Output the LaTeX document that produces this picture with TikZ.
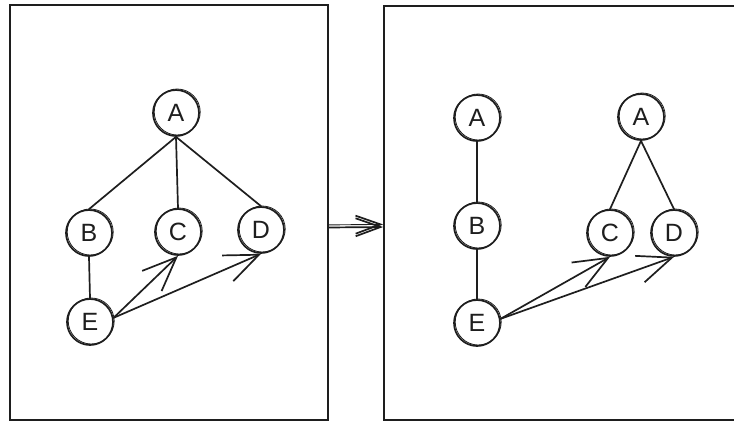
\documentclass[tikz,border=0pt]{standalone}
\usepackage{fontspec}
\setmainfont{Liberation Sans}
\usetikzlibrary{arrows.meta}
\definecolor{ink}{HTML}{1E1E1E}
\begin{document}
\begin{tikzpicture}[x=1pt,y=-1pt,
  vertex/.style={circle, draw=ink, line width=1.7pt, minimum size=46pt, inner sep=0pt,
    font=\fontsize{25}{29}\selectfont, text=ink,
    postaction={draw=ink, line width=0.8pt, transform canvas={shift={(1.2pt,1pt)}}}},
  panel/.style={draw=ink, line width=1.8pt, inner sep=0pt},
  link/.style={draw=ink, line width=1.7pt, line cap=round},
  arc/.style={link, -{Straight Barb[length=34pt, width=28pt, line width=1.7pt]}},
  ]
\clip (0,0) rectangle (734,423);
\fill[white] (0,0) rectangle (734,423);

% the two panels
\node[panel, minimum width=318pt, minimum height=415pt] (L) at (169,212.5) {};
\node[panel, minimum width=360pt, minimum height=414pt] (R) at (564,213) {};

% transition between the panels
\draw[link, -{Straight Barb[length=25pt, width=18pt, line width=1.7pt]},
  postaction={draw=ink, line width=0.9pt, transform canvas={shift={(0pt,2.6pt)}}}]
  ([yshift=-15pt]L.east) -- ([yshift=-14pt]R.west);

% left graph
\node[vertex] (A) at (176,113) {A};
\node[vertex] (B) at (89,233) {B};
\node[vertex] (C) at (178,232) {C};
\node[vertex] (D) at (261,230) {D};
\node[vertex] (E) at (90,322) {E};
\draw[link] (A.south) -- (B.north);
\draw[link] (A.south) -- (C.north);
\draw[link] (A.south) -- (D.north);
\draw[link] (B.south) -- (E.north);
\draw[arc] (E.10) -- (C.south);
\draw[arc] (E.10) -- (D.south);

% right graphs
\node[vertex] (A1) at (477,118) {A};
\node[vertex] (B1) at (477,226) {B};
\node[vertex] (E1) at (477,323) {E};
\node[vertex] (A2) at (641,117) {A};
\node[vertex] (C2) at (610,233) {C};
\node[vertex] (D2) at (674,233) {D};
\draw[link] (A1.south) -- (B1.north);
\draw[link] (B1.south) -- (E1.north);
\draw[link] (A2.south) -- (C2.north);
\draw[link] (A2.south) -- (D2.north);
\draw[arc] (E1.10) -- (C2.south);
\draw[arc] (E1.10) -- (D2.south);
\end{tikzpicture}
\end{document}
